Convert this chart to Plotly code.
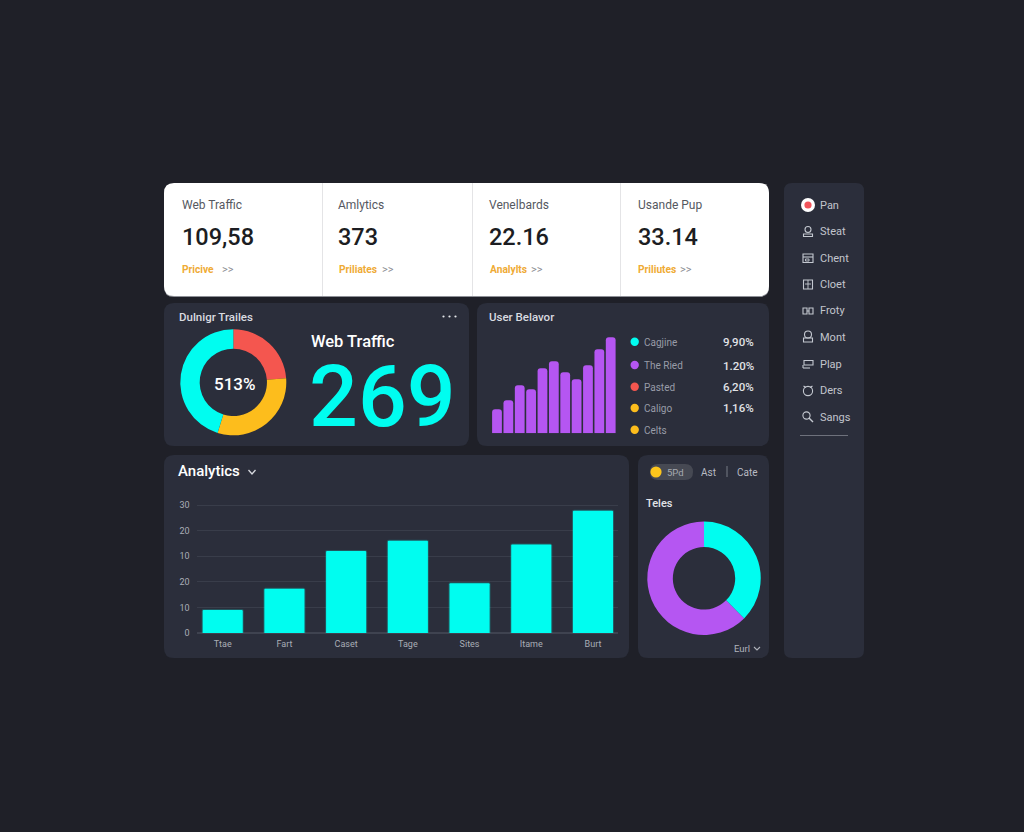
#!/usr/bin/env python3

import plotly.graph_objects as go

W = 1024
H = 832
BG = '#1f2028'
PANEL = '#2b2e3b'
CYAN = '#00fdf0'
PURPLE = '#b556f2'
RED = '#f4564f'
YELLOW = '#fdbd1c'
FONT = 'Roboto'

kpi_titles = ['Web Traffic', 'Amlytics', 'Venelbards', 'Usande Pup']
kpi_values = ['109,58', '373', '22.16', '33.14']
kpi_links = ['Pricive', 'Priliates', 'Analylts', 'Priliutes']

traffic_labels = ['Red', 'Yellow', 'Cyan']
traffic_values = [23.8, 31.0, 45.2]
traffic_colors = [RED, YELLOW, CYAN]

behavior_x = list(range(11))
behavior_y = [24, 33, 48, 44, 65, 72, 61, 54, 68, 84, 96]

legend_labels = ['Cagjine', 'The Ried', 'Pasted', 'Caligo', 'Celts']
legend_colors = [CYAN, PURPLE, RED, YELLOW, YELLOW]
legend_values = ['9,90%', '1.20%', '6,20%', '1,16%', '']

analytics_labels = ['Ttae', 'Fart', 'Caset', 'Tage', 'Sites', 'Itame', 'Burt']
analytics_values = [9, 17.3, 32, 36, 19.4, 34.6, 47.8]
analytics_ticks = [0, 10, 20, 30, 40, 50]
analytics_ticktext = ['0', '10', '20', '10', '20', '30']

totals_labels = ['Cyan', 'Purple']
totals_values = [37.5, 62.5]
totals_colors = [CYAN, PURPLE]

side_labels = ['Pan', 'Steat', 'Chent', 'Cloet', 'Froty', 'Mont', 'Plap', 'Ders', 'Sangs']


def px(x):
    return x / W


def py(y):
    return 1 - y / H


def round_box(x0, y0, x1, y1, r, color, layer='below'):
    path = (
        f'M {px(x0 + r)} {py(y0)} L {px(x1 - r)} {py(y0)} '
        f'Q {px(x1)} {py(y0)} {px(x1)} {py(y0 + r)} L {px(x1)} {py(y1 - r)} '
        f'Q {px(x1)} {py(y1)} {px(x1 - r)} {py(y1)} L {px(x0 + r)} {py(y1)} '
        f'Q {px(x0)} {py(y1)} {px(x0)} {py(y1 - r)} L {px(x0)} {py(y0 + r)} '
        f'Q {px(x0)} {py(y0)} {px(x0 + r)} {py(y0)} Z'
    )
    return dict(type='path', path=path, xref='paper', yref='paper', layer=layer,
                fillcolor=color, line_width=0)


def line(x0, y0, x1, y1, color='#c4c8d0', width=1.1):
    return dict(type='line', xref='paper', yref='paper', x0=px(x0), y0=py(y0), x1=px(x1), y1=py(y1),
                line=dict(color=color, width=width))


def box(x0, y0, x1, y1, color='#c4c8d0', width=1.1):
    return dict(type='rect', xref='paper', yref='paper', x0=px(x0), y0=py(y0), x1=px(x1), y1=py(y1),
                line=dict(color=color, width=width))


def circle(cx, cy, r, fill=None, color='#c4c8d0', width=1.1):
    shape = dict(type='circle', xref='paper', yref='paper', x0=px(cx - r), y0=py(cy - r),
                 x1=px(cx + r), y1=py(cy + r), line=dict(color=color, width=width))
    if fill:
        shape['fillcolor'] = fill
        shape['line'] = dict(width=0)
    return shape


def label(x, y, text, size, color='#ffffff', weight=400, anchor='left', family=FONT):
    return dict(x=px(x), y=py(y), xref='paper', yref='paper', text=text, showarrow=False,
                xanchor=anchor, yanchor='middle', borderpad=0,
                font=dict(family=family, size=size, color=color, weight=weight))


shapes = [
    round_box(164, 184, 769, 297, 10, '#8e9097'),
    round_box(164, 183, 769, 296, 10, '#ffffff'),
    round_box(164, 303, 469, 446, 10, PANEL),
    round_box(477, 303, 769, 446, 10, PANEL),
    round_box(164, 455, 629, 658, 10, PANEL),
    round_box(638, 455, 769, 658, 10, PANEL),
    round_box(784, 183, 864, 658, 8, PANEL),
    line(322.5, 183, 322.5, 296, '#e4e4e6', 1),
    line(472.5, 183, 472.5, 296, '#e4e4e6', 1),
    line(620.5, 183, 620.5, 296, '#e4e4e6', 1),
]
annotations = []

# kpi cards
kpi_x = [180.5, 337, 488, 636.5]
for x, title, value, link in zip(kpi_x, kpi_titles, kpi_values, kpi_links):
    annotations.append(label(x, 205, title, 12, '#55585f'))
    annotations.append(label(x, 236.5, value, 23.5, '#1c1d22', 500))
    annotations.append(label(x + 0.5, 269.5, f'<b>{link}</b>', 10.2, '#efab35'))
kpi_arrow_x = [220.5, 380.5, 529.5, 678.5]
for x in kpi_arrow_x:
    annotations.append(label(x, 269.5, '&gt;&gt;', 11, '#8b8d93'))

# traffic panel
annotations.append(label(177.5, 317.5, 'Dulnigr Trailes', 11.5, '#d9dbe0', 500))
annotations.append(label(234.5, 384, '513%', 17, '#ffffff', 500, 'center'))
annotations.append(label(310, 341.5, 'Web Traffic', 16.5, '#ffffff', 500))
annotations.append(label(382, 396, '269', 86, CYAN, 500, 'center'))
for x in [443.5, 449.5, 455.5]:
    shapes.append(circle(x, 316.5, 1.1, fill='#e6e8ec'))

# behaviour panel
annotations.append(label(487.5, 317.5, 'User Belavor', 11.5, '#d9dbe0', 500))
legend_y = [341.7, 365, 386.7, 408, 429.7]
for y, name, color, value in zip(legend_y, legend_labels, legend_colors, legend_values):
    shapes.append(circle(634.7, y, 4.2, fill=color))
    annotations.append(label(642.5, y + 0.5, name, 10, '#989ca8'))
    if value:
        annotations.append(label(755, y + 0.5, value, 11.5, '#e0e2e6', 500, 'right'))

# analytics panel
annotations.append(label(177, 471.5, 'Analytics', 15, '#ffffff', 500))
shapes.append(dict(type='path', xref='paper', yref='paper',
                   path=f'M {px(248.5)} {py(470)} L {px(252)} {py(474)} L {px(255.5)} {py(470)}',
                   line=dict(color='#d6d8de', width=1.3)))

# totals panel
shapes.append(round_box(650, 464, 693, 480, 8, '#464953'))
shapes.append(circle(656, 472, 5.6, fill='#fdc61c'))
annotations.append(label(666, 472, '5Pd', 9.5, '#a6a9b1'))
annotations.append(label(699.5, 472, 'Ast', 10, '#b8bbc3'))
shapes.append(line(727, 466, 727, 477, '#777a85', 1))
annotations.append(label(736, 472, 'Cate', 10, '#b8bbc3'))
annotations.append(label(644.5, 503, 'Teles', 11, '#e2e4e8', 500))
annotations.append(label(733, 648.5, 'Eurl', 9.5, '#b0b3bb'))
shapes.append(dict(type='path', xref='paper', yref='paper',
                   path=f'M {px(754)} {py(647)} L {px(757)} {py(650)} L {px(760)} {py(647)}',
                   line=dict(color='#b0b3bb', width=1.1)))

# sidebar
side_y = [205, 231.5, 258, 284.5, 311, 337.5, 364, 390, 417]
for y, name in zip(side_y, side_labels):
    annotations.append(label(818.5, y, name, 11, '#c2c5cd'))
shapes.append(circle(808, 205, 7, fill='#ffffff'))
shapes.append(circle(808, 205, 3.6, fill='#f2545b'))
shapes.append(line(800, 435.5, 848, 435.5, '#6e717c', 1))
# icons
shapes += [
    circle(808, 229.5, 3), box(803.5, 234, 812.5, 236.5),
    box(803, 254, 813, 262.5), line(803, 257, 813, 257), box(805.5, 259, 809, 261, width=0.9),
    box(803.5, 280, 812.5, 289), line(808, 280, 808, 289, width=0.9), line(805, 284, 811, 284, width=0.9),
    box(803, 308, 807, 314), box(809, 308, 813, 314), line(807, 311, 809, 311),
    circle(808, 334.5, 3.5), box(803.5, 338, 812.5, 342),
    box(804, 360.5, 813, 365), line(803, 368, 810, 368), line(803, 365, 803, 368),
    circle(808, 391, 4.6), line(803.5, 386, 806, 387.5), line(812.5, 386, 810, 387.5),
    circle(806.5, 415.5, 3.6), line(809, 418, 813, 422, width=1.4),
]

fig = go.Figure()

# traffic donut
fig.add_trace(go.Pie(
    labels=traffic_labels, values=traffic_values, hole=0.635, sort=False, direction='clockwise',
    rotation=0, marker=dict(colors=traffic_colors, line=dict(width=0)), textinfo='none', showlegend=False,
    domain=dict(x=[px(233.3 - 53), px(233.3 + 53)], y=[py(382.3 + 53), py(382.3 - 53)]),
))

# totals donut
fig.add_trace(go.Pie(
    labels=totals_labels, values=totals_values, hole=0.55, sort=False, direction='clockwise',
    rotation=0, marker=dict(colors=totals_colors, line=dict(width=0)), textinfo='none', showlegend=False,
    domain=dict(x=[px(704 - 56.7), px(704 + 56.7)], y=[py(578.3 + 56.7), py(578.3 - 56.7)]),
))

# user behaviour bars
fig.add_trace(go.Bar(x=behavior_x, y=behavior_y, marker=dict(color=PURPLE, line_width=0, cornerradius=3),
                     width=0.86, showlegend=False, xaxis='x2', yaxis='y2'))

# analytics bars, thin outline stands in for the glow
fig.add_trace(go.Bar(x=analytics_labels, y=analytics_values,
                     marker=dict(color=CYAN, cornerradius=1, line=dict(color='rgba(0,253,240,0.2)', width=2)),
                     width=0.65, showlegend=False, xaxis='x', yaxis='y'))

fig.update_layout(
    width=W,
    height=H,
    autosize=False,
    margin=dict(l=0, r=0, t=0, b=0),
    paper_bgcolor=BG,
    plot_bgcolor='rgba(0,0,0,0)',
    font=dict(family=FONT),
    shapes=shapes,
    annotations=annotations,
    xaxis=dict(domain=[px(197.4), px(618.3)], range=[-0.41, 6.41], type='category', anchor='y',
               automargin=False, showgrid=False, zeroline=False, showline=False, ticks='outside', ticklen=2,
               tickcolor='rgba(0,0,0,0)', tickfont=dict(size=9, color='#a9adb6')),
    yaxis=dict(domain=[py(633), py(503.5)], range=[0, 50.6], tickvals=analytics_ticks, ticktext=analytics_ticktext,
               anchor='x', automargin=False, gridcolor='#393d4a', gridwidth=1, zeroline=True, zerolinecolor='#3f4350',
               showline=False, ticks='outside', ticklen=5, tickcolor='rgba(0,0,0,0)',
               tickfont=dict(size=9, color='#a9adb6')),
    xaxis2=dict(domain=[px(491.3), px(616.4)], range=[-0.5, 10.5], anchor='y2', visible=False, automargin=False),
    yaxis2=dict(domain=[py(433.3), py(333.3)], range=[0, 100], anchor='x2', visible=False, automargin=False),
)

fig.write_html("out.html", config=dict(displayModeBar=False),
               post_script="document.body.style.margin='0';document.body.style.background='%s';" % BG)
